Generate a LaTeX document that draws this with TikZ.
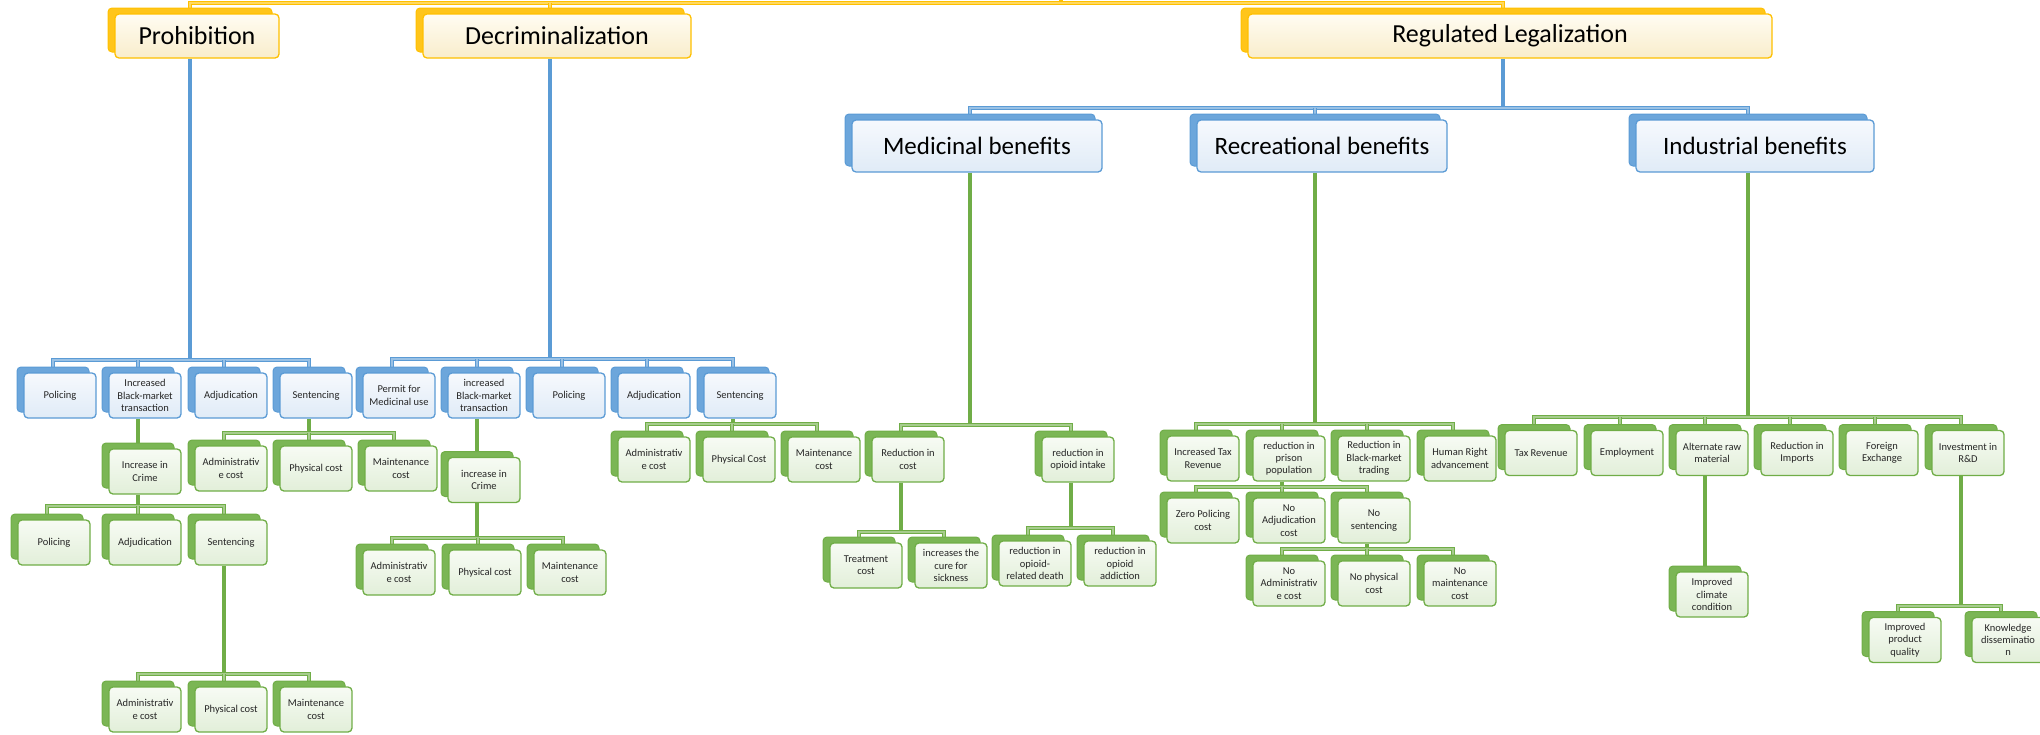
\documentclass[tikz,border=0pt]{standalone}
\usepackage{fontspec}
\setmainfont{Carlito}
\pgfdeclarelayer{conn}
\pgfsetlayers{conn,main}
\definecolor{txt}{HTML}{262626}
\definecolor{yB}{HTML}{FFC000}
\definecolor{yK}{HTML}{FFC51A}
\definecolor{yF1}{HTML}{FFFCF2}
\definecolor{yF2}{HTML}{F9EDCB}
\definecolor{bB}{HTML}{5B9BD5}
\definecolor{bK}{HTML}{6CA6DB}
\definecolor{bF1}{HTML}{F6F9FD}
\definecolor{bF2}{HTML}{E0EBF7}
\definecolor{gB}{HTML}{70AD47}
\definecolor{gK}{HTML}{7BB655}
\definecolor{gF1}{HTML}{F7FBF4}
\definecolor{gF2}{HTML}{E2EFD9}
\tikzset{
  box/.style={rounded corners=4pt, line width=1.3pt, align=center, inner sep=1pt, text=txt},
  sm/.style={box, minimum width=72pt, minimum height=45pt, font=\fontsize{10.5}{12.3}\selectfont},
  md/.style={box, minimum width=250pt, minimum height=52pt, font=\fontsize{25}{28}\selectfont, text=black},
  tp/.style={box, minimum height=44pt, font=\fontsize{26}{30}\selectfont, text=black},
  ybox/.style={draw=yB, top color=yF1, bottom color=yF2, preaction={draw=yB, fill=yK, line width=1pt, transform canvas={xshift=-7pt,yshift=6pt}}},
  bbox/.style={draw=bB, top color=bF1, bottom color=bF2, preaction={draw=bB, fill=bK, line width=1pt, transform canvas={xshift=-7pt,yshift=6pt}}},
  gbox/.style={draw=gB, top color=gF1, bottom color=gF2, preaction={draw=gB, fill=gK, line width=1pt, transform canvas={xshift=-7pt,yshift=6pt}}},
  trunk/.style={draw=#1, line width=3.2pt},
  bus/.style={draw=#1, line width=1pt, double=#1!62!white, double distance=1.3pt},
}
\newcommand\tick[3]{\draw[bus=#1] ([xshift=-7pt]#2.north) -- ([xshift=-7pt]#2.north |- #3);}
\newcommand\fanout[5]{% color, parent, bus, first, last
  \draw[trunk=#1] ([xshift=-7pt]#2.south) -- (#3);
  \draw[bus=#1] ([xshift=-7pt]#4.north) |- (#3) -| ([xshift=-7pt]#5.north);}
\begin{document}
\begin{tikzpicture}[x=1pt,y=-1pt]
\useasboundingbox (0,0) rectangle (2040,734);
% ---------- top level
\node[tp,ybox,minimum width=164pt] (P0) at (197,36) {Prohibition};
\node[tp,ybox,minimum width=268pt] (D0) at (557,36) {Decriminalization};
\node[tp,ybox,minimum width=524pt] (R0) at (1510,36) {Regulated Legalization};
% ---------- Prohibition
\node[sm,bbox] (P1) at (60,395.5) {Policing};
\node[sm,bbox] (P2) at (145,395.5) {Increased\\Black-market\\transaction};
\node[sm,bbox] (P3) at (231,395.5) {Adjudication};
\node[sm,bbox] (P4) at (316,395.5) {Sentencing};
\node[sm,gbox] (P41) at (231,468.5) {Administrativ\\e cost};
\node[sm,gbox] (P42) at (316,468.5) {Physical cost};
\node[sm,gbox] (P43) at (401,468.5) {Maintenance\\cost};
\node[sm,gbox] (P21) at (145,471.5) {Increase in\\Crime};
\node[sm,gbox] (P211) at (54,542.5) {Policing};
\node[sm,gbox] (P212) at (145,542.5) {Adjudication};
\node[sm,gbox] (P213) at (231,542.5) {Sentencing};
\node[sm,gbox] (P2131) at (145,709.5) {Administrativ\\e cost};
\node[sm,gbox] (P2132) at (231,709.5) {Physical cost};
\node[sm,gbox] (P2133) at (316,709.5) {Maintenance\\cost};
% ---------- Decriminalization
\node[sm,bbox] (D1) at (399,395.5) {Permit for\\Medicinal use};
\node[sm,bbox] (D2) at (484,395.5) {increased\\Black-market\\transaction};
\node[sm,bbox] (D3) at (569,395.5) {Policing};
\node[sm,bbox] (D4) at (654,395.5) {Adjudication};
\node[sm,bbox] (D5) at (740,395.5) {Sentencing};
\node[sm,gbox] (D51) at (654,459.5) {Administrativ\\e cost};
\node[sm,gbox] (D52) at (739,459.5) {Physical Cost};
\node[sm,gbox] (D53) at (824,459.5) {Maintenance\\cost};
\node[sm,gbox] (D21) at (484,480) {increase in\\Crime};
\node[sm,gbox] (D211) at (399,572.5) {Administrativ\\e cost};
\node[sm,gbox] (D212) at (485,572.5) {Physical cost};
\node[sm,gbox] (D213) at (570,572.5) {Maintenance\\cost};
% ---------- Regulated legalization
\node[md,bbox] (M0) at (977,146) {Medicinal benefits};
\node[md,bbox] (C0) at (1322,146) {Recreational benefits};
\node[md,bbox,minimum width=238pt] (I0) at (1755,146) {Industrial benefits};
% Medicinal
\node[sm,gbox] (M1) at (908,459.5) {Reduction in\\cost};
\node[sm,gbox] (M2) at (1078,459.5) {reduction in\\opioid intake};
\node[sm,gbox] (M11) at (866,565.5) {Treatment\\cost};
\node[sm,gbox] (M12) at (951,565.5) {increases the\\cure for\\sickness};
\node[sm,gbox] (M21) at (1035,563.5) {reduction in\\opioid-\\related death};
\node[sm,gbox] (M22) at (1120,563.5) {reduction in\\opioid\\addiction};
% Recreational
\node[sm,gbox] (C1) at (1203,458.5) {Increased Tax\\Revenue};
\node[sm,gbox] (C2) at (1289,458.5) {reduction in\\prison\\population};
\node[sm,gbox] (C3) at (1374,458.5) {Reduction in\\Black-market\\trading};
\node[sm,gbox] (C4) at (1460,458.5) {Human Right\\advancement};
\node[sm,gbox] (C21) at (1203,520.5) {Zero Policing\\cost};
\node[sm,gbox] (C22) at (1289,520.5) {No\\Adjudication\\cost};
\node[sm,gbox] (C23) at (1374,520.5) {No\\sentencing};
\node[sm,gbox] (C231) at (1289,583.5) {No\\Administrativ\\e cost};
\node[sm,gbox] (C232) at (1374,583.5) {No physical\\cost};
\node[sm,gbox] (C233) at (1460,583.5) {No\\maintenance\\cost};
% Industrial
\node[sm,gbox] (I1) at (1541,453) {Tax Revenue};
\node[sm,gbox] (I2) at (1627,453) {Employment};
\node[sm,gbox] (I3) at (1712,453) {Alternate raw\\material};
\node[sm,gbox] (I4) at (1797,453) {Reduction in\\Imports};
\node[sm,gbox] (I5) at (1882,453) {Foreign\\Exchange};
\node[sm,gbox] (I6) at (1968,453) {Investment in\\R\&D};
\node[sm,gbox] (I31) at (1712,594.5) {Improved\\climate\\condition};
\node[sm,gbox] (I61) at (1905,640) {Improved\\product\\quality};
\node[sm,gbox] (I62) at (2008,640) {Knowledge\\disseminatio\\n};
% ---------- connectors
\begin{pgfonlayer}{conn}
\coordinate (root) at (1061,-10);
\coordinate (bT) at (1061,3);
\draw[trunk=yB] (root) -- (bT);
\draw[bus=yB] ([xshift=-7pt]P0.north) |- (bT) -| ([xshift=-7pt]R0.north);
\tick{yB}{D0}{bT}
% Prohibition
\coordinate (bP) at (190,360);
\fanout{bB}{P0}{bP}{P1}{P4}
\tick{bB}{P2}{bP}\tick{bB}{P3}{bP}
\coordinate (bP4) at (309,433);
\fanout{gB}{P4}{bP4}{P41}{P43}
\tick{gB}{P42}{bP4}
\draw[trunk=gB] ([xshift=-7pt]P2.south) -- ([xshift=-7pt]P21.north);
\coordinate (bP21) at (138,506);
\fanout{gB}{P21}{bP21}{P211}{P213}
\tick{gB}{P212}{bP21}
\coordinate (bP213) at (224,674);
\fanout{gB}{P213}{bP213}{P2131}{P2133}
\tick{gB}{P2132}{bP213}
% Decriminalization
\coordinate (bD) at (550,359);
\fanout{bB}{D0}{bD}{D1}{D5}
\tick{bB}{D2}{bD}\tick{bB}{D3}{bD}\tick{bB}{D4}{bD}
\coordinate (bD5) at (733,424);
\fanout{gB}{D5}{bD5}{D51}{D53}
\tick{gB}{D52}{bD5}
\draw[trunk=gB] ([xshift=-7pt]D2.south) -- ([xshift=-7pt]D21.north);
\coordinate (bD21) at (477,538);
\fanout{gB}{D21}{bD21}{D211}{D213}
\tick{gB}{D212}{bD21}
% Regulated
\coordinate (bR) at (1503,108);
\fanout{bB}{R0}{bR}{M0}{I0}
\tick{bB}{C0}{bR}
\coordinate (bM) at (970,425);
\fanout{gB}{M0}{bM}{M1}{M2}
\coordinate (bM1) at (901,532);
\fanout{gB}{M1}{bM1}{M11}{M12}
\coordinate (bM2) at (1071,528);
\fanout{gB}{M2}{bM2}{M21}{M22}
\coordinate (bC) at (1315,424);
\fanout{gB}{C0}{bC}{C1}{C4}
\tick{gB}{C2}{bC}\tick{gB}{C3}{bC}
\coordinate (bC2) at (1282,487);
\fanout{gB}{C2}{bC2}{C21}{C23}
\tick{gB}{C22}{bC2}
\coordinate (bC23) at (1367,549);
\fanout{gB}{C23}{bC23}{C231}{C233}
\tick{gB}{C232}{bC23}
\coordinate (bI) at (1748,417);
\fanout{gB}{I0}{bI}{I1}{I6}
\tick{gB}{I2}{bI}\tick{gB}{I3}{bI}\tick{gB}{I4}{bI}\tick{gB}{I5}{bI}
\draw[trunk=gB] ([xshift=-7pt]I3.south) -- ([xshift=-7pt]I31.north);
\coordinate (bI6) at (1961,606);
\fanout{gB}{I6}{bI6}{I61}{I62}
\end{pgfonlayer}
\end{tikzpicture}
\end{document}
